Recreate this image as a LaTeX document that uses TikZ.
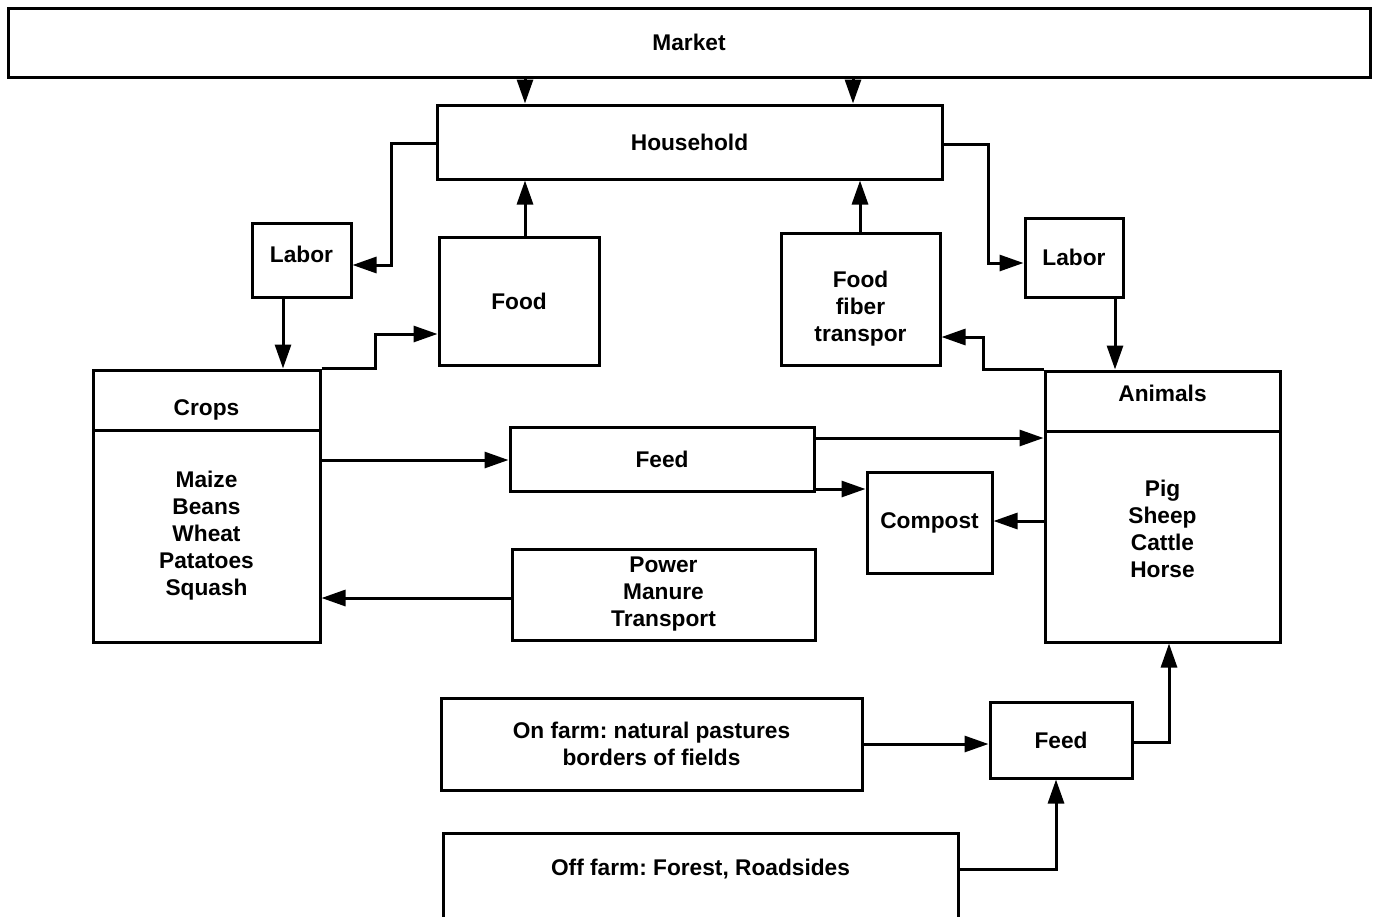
\documentclass[tikz,border=0pt]{standalone}
\usepackage{fontspec}
\setmainfont{Liberation Sans}
\usetikzlibrary{arrows.meta}
\begin{document}
\frenchspacing
\begin{tikzpicture}[
    x=1pt,y=-1pt,
    txt/.style={font=\fontsize{22.7}{27}\selectfont\bfseries},
    box/.style={draw, line width=3pt, inner sep=0pt, align=center, txt},
    link/.style={line width=3pt, -{Triangle[length=24pt,width=16pt]}}
    ]
    \useasboundingbox (0,0) rectangle (1375,916);
    \clip (0,0) rectangle (1375,916);
    % boxes
    \node[box, minimum width=1362pt, minimum height=69pt] (market) at (689,42.5) {Market};
    \node[box, minimum width=505pt, minimum height=74pt] (house) at (689.5,142) {Household};
    \node[box, minimum width=99pt, minimum height=74pt, text height=10pt, text depth=6pt] (laborL) at (301.5,260) {Labor};
    \node[box, minimum width=160pt, minimum height=128pt] (food) at (519,301) {Food};
    \node[box, minimum width=159pt, minimum height=132pt, text height=88.8pt, text depth=4.8pt] (fft) at (860.5,299) {Food\\fiber\\transpor};
    \node[box, minimum width=98pt, minimum height=79pt] (laborR) at (1074,257.5) {Labor};
    \node[box, minimum width=227pt, minimum height=60pt, text height=30pt, text depth=0pt] (cropsHead) at (206.5,400) {Crops};
    \node[box, minimum width=227pt, minimum height=212pt] (cropsBody) at (206.5,536) {Maize\\Beans\\Wheat\\Patatoes\\Squash};
    \node[box, minimum width=235pt, minimum height=60pt, text height=10pt, text depth=10pt] (animalsHead) at (1162.5,401) {Animals};
    \node[box, minimum width=235pt, minimum height=211pt, text height=97.5pt, text depth=16.5pt] (animalsBody) at (1162.5,536.5) {Pig\\Sheep\\Cattle\\Horse};
    \node[box, minimum width=304pt, minimum height=64pt] (feed) at (662,459) {Feed};
    \node[box, minimum width=303pt, minimum height=91pt] (power) at (663.5,594.5) {Power\\Manure\\Transport};
    \node[box, minimum width=125pt, minimum height=101pt] (compost) at (929.5,522.5) {Compost};
    \node[box, minimum width=421pt, minimum height=92pt] (onfarm) at (651.5,744) {On farm: natural pastures\\borders of fields};
    \node[box, minimum width=142pt, minimum height=76pt] (feed2) at (1061,740) {Feed};
    \node[box, minimum width=515pt, minimum height=130pt, anchor=north] (offfarm) at (700.5,832) {};
    \node[txt] (offtext) at (700.5,869) {Off farm: Forest, Roadsides};
    % flows
    \draw[link] (market.south -| 525,0) -- (house.north -| 525,0);
    \draw[link] (market.south -| 853,0) -- (house.north -| 853,0);
    \draw[link] (house.west |- 0,143) -- ++(-44,0) |- (laborL.east |- 0,265);
    \draw[link] (food.north -| 525,0) -- (house.south -| 525,0);
    \draw[link] (laborL.south -| 283,0) -- (cropsHead.north -| 283,0);
    \draw[link] (cropsHead.north east) -- ++(54,0) |- (food.west |- 0,334);
    \draw[link] (house.east |- 0,144) -- ++(45,0) |- (laborR.west |- 0,263);
    \draw[link] (fft.north -| 860,0) -- (house.south -| 860,0);
    \draw[link] (laborR.south -| 1115,0) -- (animalsHead.north -| 1115,0);
    \draw[link] (animalsHead.north west) -- ++(-60,0) |- (fft.east |- 0,337);
    \draw[link] (cropsBody.east |- 0,460) -- (feed.west |- 0,460);
    \draw[link] (feed.east |- 0,438) -- (animalsBody.west |- 0,438);
    \draw[link] (feed.east |- 0,489) -- (compost.west |- 0,489);
    \draw[link] (animalsBody.west |- 0,521) -- (compost.east |- 0,521);
    \draw[link] (power.west |- 0,598) -- (cropsBody.east |- 0,598);
    \draw[link] (onfarm.east |- 0,744) -- (feed2.west |- 0,744);
    \draw[link] (offfarm.east |- 0,869) -| (feed2.south -| 1056,0);
    \draw[link] (feed2.east |- 0,742) -| (animalsBody.south -| 1169,0);
\end{tikzpicture}
\end{document}
